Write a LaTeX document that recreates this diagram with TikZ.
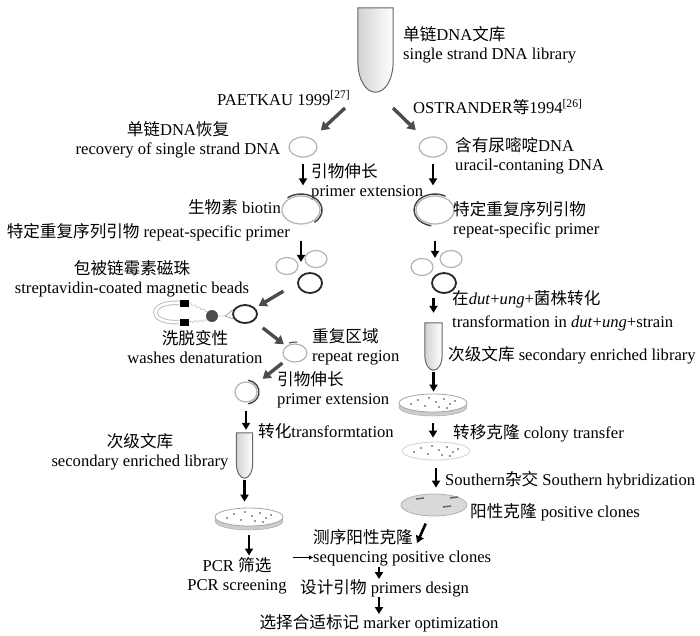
\documentclass[tikz,border=0pt]{standalone}
\usepackage{fontspec}
\setmainfont{Liberation Serif}
\newfontfamily\zhfont{Noto Sans CJK SC}
\newcommand{\zh}[1]{{\zhfont #1}}
\usetikzlibrary{shapes.geometric,arrows.meta,calc,fit,decorations.pathmorphing}

\begin{document}
\begin{tikzpicture}[
    x=1pt, y=-1pt,
    every node/.style={font=\fontsize{16.6}{19}\selectfont, inner sep=0pt},
    lbl/.style={align=left, anchor=west},
    lblc/.style={align=center},
    ring/.style={ellipse, draw=gray!60, line width=1.2pt, minimum width=28pt, minimum height=20pt},
    darkring/.style={ring, draw=black!85, line width=1.8pt},
    strand/.style={draw=black!75, line width=1.4pt},
    tubebox/.style={rectangle, minimum width=17pt, minimum height=46pt},
    tubeline/.style={draw=gray!80!black, line width=1pt, left color=gray!35, right color=white},
    dish/.style={ellipse, draw=gray!70, line width=0.8pt, fill=white, minimum width=68pt, minimum height=18pt},
    dishbase/.style={ellipse, draw=gray!70, fill=gray!40, minimum width=68pt, minimum height=18pt},
    magbar/.style={rectangle, fill=black, minimum width=9pt, minimum height=7pt},
    vdown/.style={-{Triangle[length=7pt,width=8pt]}, line width=2.6pt, black},
    vdiag/.style={-{Triangle[length=8pt,width=10pt]}, line width=3.4pt, black!70},
    hshort/.style={-{Triangle[length=4pt,width=4pt]}, line width=1.2pt, black}
]
\useasboundingbox (0,0) rectangle (700,635);

% Nodes: top
\node[tubebox, minimum width=35pt, minimum height=84pt] (lib) at (375.5,50) {};
\node[lbl] (libtxt) at (403,45) {\zh{单链}DNA\zh{文库}\\single strand DNA library};
\node[lbl] (paet) at (217,98) {PAETKAU 1999\textsuperscript{[27]}};
\node[lbl] (ostr) at (413,107) {OSTRANDER\zh{等}1994\textsuperscript{[26]}};
\coordinate (forkL) at (345,108);
\coordinate (forkR) at (393,108);

% Nodes: left column
\node[ring] (recov) at (303,147) {};
\node[lblc] (recovtxt) at (178,140) {\zh{单链}DNA\zh{恢复}\\recovery of single strand DNA};
\node[lbl] (ext1txt) at (311,182) {\zh{引物伸长}\\primer extension};
\node[ring, minimum width=38pt, minimum height=28pt] (biotin) at (301,210) {};
\node[anchor=east] (biotintxt) at (281,207) {\zh{生物素} biotin};
\node[anchor=east] (rsp1txt) at (290,232) {\zh{特定重复序列引物} repeat-specific primer};
\node[ring, minimum width=22pt, minimum height=17pt] (mixL1) at (287,266) {};
\node[ring, minimum width=22pt, minimum height=17pt] (mixL2) at (316,259) {};
\node[darkring, minimum width=24pt, minimum height=20pt] (mixL3) at (310,283) {};
\node[fit=(mixL1)(mixL2)(mixL3)] (mixL) {};
\node[lblc] (beadtxt) at (132,279) {\zh{包被链霉素磁珠}\\streptavidin-coated magnetic beads};
\node[magbar] (magN) at (184,303) {};
\node[magbar] (magS) at (184,322) {};
\node[circle, fill=black!70, minimum size=12pt] (bead) at (212,316) {};
\node[darkring, minimum width=24pt, minimum height=18pt] (bound) at (245,314) {};
\node[lblc] (washtxt) at (195,347) {\zh{洗脱变性}\\washes denaturation};
\node[ring, minimum width=24pt, minimum height=18pt] (rep) at (295,353) {};
\node[lbl] (reptxt) at (312,347) {\zh{重复区域}\\repeat region};
\node[ring, minimum width=22pt, minimum height=20pt] (ext) at (246,392) {};
\node[lbl] (ext2txt) at (277,390) {\zh{引物伸长}\\primer extension};
\node[tubebox, minimum width=16pt, minimum height=45pt] (tubeL) at (244.5,455.5) {};
\node[lbl] (transtxt) at (258,431) {\zh{转化}transformtation};
\node[lblc] (libLtxt) at (140,452) {\zh{次级文库}\\secondary enriched library};
\node[dishbase] (dishLb) at (249,521) {};
\node[dish] (dishL) at (249,517) {};
\node[lblc] (pcrtxt) at (237,576) {PCR \zh{筛选}\\PCR screening};

% Nodes: right column
\node[ring] (uracil) at (433,147) {};
\node[lbl] (uraciltxt) at (455,156) {\zh{含有尿嘧啶}DNA\\uracil-contaning DNA};
\node[ring, minimum width=38pt, minimum height=28pt] (rsp) at (435,210) {};
\node[lbl] (rsp2txt) at (453,220) {\zh{特定重复序列引物}\\repeat-specific primer};
\node[ring, minimum width=22pt, minimum height=17pt] (mixR1) at (422,267) {};
\node[ring, minimum width=22pt, minimum height=17pt] (mixR2) at (451,259) {};
\node[darkring, minimum width=24pt, minimum height=20pt] (mixR3) at (444,283) {};
\node[fit=(mixR1)(mixR2)(mixR3)] (mixR) {};
\node[lbl] (duttxt) at (452,311) {\zh{在}\textit{dut}+\textit{ung}+\zh{菌株转化}\\[4pt]transformation in \textit{dut}+\textit{ung}+strain};
\node[tubebox, minimum width=17pt, minimum height=47pt] (tubeR) at (433.5,346.5) {};
\node[lbl] (libRtxt) at (448,355) {\zh{次级文库} secondary enriched library};
\node[dishbase] (dishR1b) at (433,407) {};
\node[dish] (dishR1) at (433,403) {};
\node[lbl] (transfertxt) at (453,433) {\zh{转移克隆} colony transfer};
\node[dish, draw=gray!35] (dishR2) at (436,451) {};
\node[lbl] (southtxt) at (445,480) {Southern\zh{杂交} Southern hybridization};
\node[dish, fill=gray!30, draw=gray!60, minimum width=66pt, minimum height=22pt] (dishR3) at (434,505) {};
\node[lbl] (postxt) at (470,512) {\zh{阳性克隆} positive clones};
\node[lbl] (seqtxt) at (313,548) {\zh{测序阳性克隆}\\sequencing positive clones};
\node[lbl] (designtxt) at (300,588) {\zh{设计引物} primers design};
\node (markertxt) at (379,623) {\zh{选择合适标记} marker optimization};
\coordinate (seqend) at (417,543);
\coordinate (seqin) at ([yshift=9pt]seqtxt.south west);

% Tubes, strands, plates
\foreach \t/\r in {lib/32,tubeL/16,tubeR/16}
  \draw[tubeline] (\t.north west) -- ($(\t.south west)+(0,-\r)$)
    .. controls ($(\t.south west)+(0,\r/3)$) and ($(\t.south east)+(0,\r/3)$) .. ($(\t.south east)+(0,-\r)$)
    -- (\t.north east) -- cycle;
\draw[strand] ([shift={(130:21pt and 16pt)}]biotin.center) arc[start angle=130, end angle=-50, x radius=21pt, y radius=16pt];
\draw[strand] ([shift={(60:21pt and 16pt)}]rsp.center) arc[start angle=60, end angle=260, x radius=21pt, y radius=16pt];
\draw[strand] ([shift={(80:13pt and 12pt)}]ext.center) arc[start angle=80, end angle=-80, x radius=13pt, y radius=12pt];
\draw[strand, line width=1pt] ([shift={(115:14pt and 11pt)}]rep.center) arc[start angle=115, end angle=80, x radius=14pt, y radius=11pt];
\foreach \d in {dishL,dishR1,dishR2}
  \foreach \dx/\dy in {-22/1,-15/-3,-8/3,-4/-5,3/-1,6/4,11/-4,17/1,22/-2,14/5}
    \fill[black!80] ($(\d)+(\dx,\dy)$) circle[radius=0.9pt];
\foreach \dx/\dy in {-14/-6,20/-7,13/2}
  \draw[black!60, line width=1.5pt] ($(dishR3)+(\dx-4,\dy)$) -- ($(dishR3)+(\dx+4,\dy-1)$);

% Magnet
\draw[gray!50, line width=1pt, double=white, double distance=2.5pt] (magN.west)
  .. controls ($(magN.west)+(-32,-2)$) and ($(magS.west)+(-32,2)$) .. (magS.west);
\draw[gray!60, decorate, decoration={snake, amplitude=1pt, segment length=5pt}] (magN.east) -- (bead.north west);
\draw[gray!60, decorate, decoration={snake, amplitude=1pt, segment length=5pt}] (magS.east) -- (bead.south west);
\draw[black!60] (bead.east) -- ++(7,0) coordinate (yk) -- (bound.155);
\draw[black!60] (yk) -- (bound.205);

% Arrows
\draw[vdiag, shorten >=12pt] (forkL) -- (recov);
\draw[vdiag, shorten >=12pt] (forkR) -- (uracil);
\draw[vdown, shorten <=6pt, shorten >=10pt] (recov) -- (recov |- biotin.north);
\draw[vdown, shorten <=16pt, shorten >=10pt] (biotin) -- (biotin |- mixL.center);
\draw[vdiag, shorten <=16pt, shorten >=4pt] (mixL3.west) -- (bound);
\draw[vdiag, shorten <=11pt, shorten >=3pt] (bound) -- (rep);
\draw[vdiag, shorten <=5pt, shorten >=10pt] (rep) -- (ext);
\draw[vdown, shorten <=8pt, shorten >=3pt] (ext) -- (ext |- tubeL.north);
\draw[vdown, shorten <=2pt, shorten >=6pt] (tubeL) -- (tubeL |- dishL.north);
\draw[vdown, shorten <=5pt, shorten >=2pt] (dishLb) -- (dishLb |- pcrtxt.north);
\draw[hshort, shorten <=6pt] (seqin -| pcrtxt.east) -- (seqin);
\draw[vdown, shorten <=6pt, shorten >=10pt] (uracil) -- (uracil |- rsp.north);
\draw[vdown, shorten <=16pt, shorten >=14pt] (rsp) -- (rsp |- mixR.center);
\draw[vdown, shorten <=4pt, shorten >=10pt] (tubeR |- mixR.south) -- (tubeR);
\draw[vdown, shorten <=2pt, shorten >=2pt] (tubeR) -- (tubeR |- dishR1.north);
\draw[vdown, shorten <=7pt, shorten >=4pt] (dishR1b) -- (dishR1b |- dishR2.north);
\draw[vdown, shorten <=8pt, shorten >=6pt] (dishR2) -- (dishR2 |- dishR3.north);
\draw[vdown, shorten <=8pt] (dishR3) -- (seqend);
\draw[vdown] (markertxt |- seqtxt.south) -- (markertxt |- designtxt.north);
\draw[vdown] (markertxt |- designtxt.south) -- (markertxt.north);

\end{tikzpicture}
\end{document}
